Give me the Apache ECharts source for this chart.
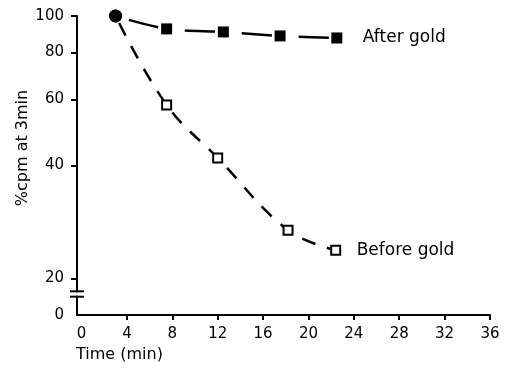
<!DOCTYPE html>
<html>
<head>
<meta charset="utf-8">
<script src="https://cdn.jsdelivr.net/npm/echarts@6/dist/echarts.min.js"></script>
<style>
  html, body { margin: 0; padding: 0; background: #fff; }
  #chart { width: 508px; height: 368px; }
</style>
</head>
<body>
<div id="chart"></div>
<script>
// ── Данные ───────────────────────────────────────────────────────────────
var startPoint  = [3, 100];
var afterTime   = [7.5, 12.5, 17.5, 22.5];
var afterValue  = [92.4, 90.7, 88.5, 87.4];
var beforeTime  = [7.5, 12, 18.2, 22.4];
var beforeValue = [58, 41.9, 26.9, 23.8];

var xTicks = [0, 4, 8, 12, 16, 20, 24, 28, 32, 36];
var yTicks = [20, 40, 60, 80, 100];
var yZero  = 16;          // низ лог-оси, подписан как «0» (разрыв оси)
var breakLo = 17.9, breakHi = 18.5;

var FONT = 'DejaVu Sans';

function _pairs(xs, ys) {
  return xs.map(function (x, i) { return [x, ys[i]]; });
}

var startItem = {
  value: startPoint,
  symbol: 'circle',
  symbolSize: 13,
  itemStyle: { color: '#000', borderWidth: 0 }
};

var chart = echarts.init(document.getElementById('chart'), null, { renderer: 'canvas' });

chart.setOption({
  animation: false,
  grid: { left: 77, right: 18, top: 16, bottom: 53 },
  xAxis: {
    type: 'value',
    min: -0.4,
    max: 36,
    axisLine: { onZero: false, lineStyle: { color: '#000', width: 2 } },
    axisTick: {
      customValues: xTicks.slice(1),
      length: 5,
      lineStyle: { color: '#000', width: 2 }
    },
    axisLabel: {
      customValues: xTicks,
      color: '#000',
      fontFamily: FONT,
      fontSize: 15,
      margin: 12
    },
    splitLine: { show: false }
  },
  yAxis: {
    type: 'log',
    logBase: 10,
    min: yZero,
    max: 100,
    axisLine: { onZero: false, lineStyle: { color: '#000', width: 2 } },
    axisTick: {
      customValues: yTicks,
      length: 6,
      lineStyle: { color: '#000', width: 2 }
    },
    axisLabel: {
      customValues: [yZero].concat(yTicks),
      color: '#000',
      fontFamily: FONT,
      fontSize: 15,
      margin: 13,
      formatter: function (v) {
        return v < 17 ? '0' : String(Math.round(v));
      }
    },
    splitLine: { show: false }
  },
  series: [
    {
      name: 'After gold',
      type: 'line',
      smooth: 0.3,
      data: [startItem].concat(_pairs(afterTime, afterValue)),
      symbol: 'rect',
      symbolSize: 11,
      itemStyle: { color: '#000' },
      lineStyle: { color: '#000', width: 2.5, type: [30, 27], dashOffset: 43 },
      endLabel: {
        show: true,
        formatter: '{a}',
        color: '#000',
        fontFamily: FONT,
        fontSize: 17,
        distance: 26
      },
      z: 3
    },
    {
      name: 'Before gold',
      type: 'line',
      smooth: 0.4,
      data: [startItem].concat(_pairs(beforeTime, beforeValue)),
      symbol: 'rect',
      symbolSize: 9,
      itemStyle: { color: '#fff', borderColor: '#000', borderWidth: 2 },
      lineStyle: { color: '#000', width: 2.5, type: [14, 12], dashOffset: 18 },
      endLabel: {
        show: true,
        formatter: '{a}',
        color: '#000',
        fontFamily: FONT,
        fontSize: 17,
        distance: 21
      },
      z: 2
    }
  ]
});

// ── Разрыв оси Y и подписи осей ──────────────────────────────────────────
var axX = chart.convertToPixel({ xAxisIndex: 0 }, -0.4);
var yHi = chart.convertToPixel({ yAxisIndex: 0 }, breakHi);
var yLo = chart.convertToPixel({ yAxisIndex: 0 }, breakLo);

chart.setOption({
  graphic: [
    {
      type: 'rect',
      shape: { x: axX - 3, y: yHi + 1, width: 6, height: yLo - yHi - 2 },
      style: { fill: '#fff' },
      z: 100
    },
    {
      type: 'line',
      shape: { x1: axX - 7, y1: yHi, x2: axX + 7, y2: yHi },
      style: { stroke: '#000', lineWidth: 2 },
      z: 101
    },
    {
      type: 'line',
      shape: { x1: axX - 7, y1: yLo, x2: axX + 7, y2: yLo },
      style: { stroke: '#000', lineWidth: 2 },
      z: 101
    },
    {
      type: 'text',
      x: 23,
      y: 148,
      rotation: Math.PI / 2,
      style: {
        text: '%cpm at 3min',
        fill: '#000',
        font: '16px "DejaVu Sans"',
        align: 'center',
        verticalAlign: 'middle'
      }
    },
    {
      type: 'text',
      x: 76,
      y: 355,
      style: {
        text: 'Time (min)',
        fill: '#000',
        font: '16px "DejaVu Sans"',
        align: 'left',
        verticalAlign: 'middle'
      }
    }
  ]
});
</script>
</body>
</html>
